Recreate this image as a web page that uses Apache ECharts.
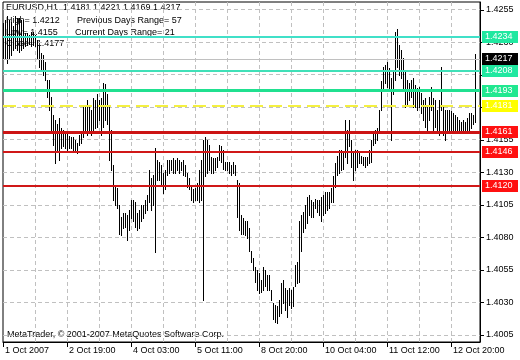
<!DOCTYPE html>
<html><head><meta charset="utf-8">
<script src="https://cdn.jsdelivr.net/npm/echarts@6/dist/echarts.min.js"></script>
<style>html,body{margin:0;padding:0;background:#fff}#c{width:520px;height:360px}</style>
</head><body><div id="c"></div>
<script>
// ---- data ----
const symbolName = 'EURUSD,H1';
const lastBarOHLC = [1.4181, 1.4221, 1.4169, 1.4217];
const dayHigh = 1.4212, dayLow = 1.4155, dayClose = 1.4177;
const prevDaysRange = 57, curDaysRange = 21;
const copyright = 'MetaTrader, \u00a9 2001-2007 MetaQuotes Software Corp.';

const timeLabels = ['1 Oct 2007', '2 Oct 19:00', '4 Oct 03:00', '5 Oct 11:00', '8 Oct 20:00', '10 Oct 04:00', '11 Oct 12:00', '12 Oct 20:00'];
const barsPerLabel = 32;
const priceTicks = [1.4005, 1.4030, 1.4055, 1.4080, 1.4105, 1.4130, 1.4155, 1.4180, 1.4205, 1.4230, 1.4255];

const highs = [
1.4245,1.4247,1.4250,1.4247,1.4246,1.4243,1.4250,1.4249,1.4249,1.4247,1.4247,1.4237,1.4237,1.4236,1.4238,1.4238,1.4236,1.4232,1.4227,1.4222,1.4220,1.4215,
1.4201,1.4201,1.4188,1.4174,1.4170,1.4167,1.4172,1.4164,1.4163,1.4161,1.4160,1.4158,1.4157,1.4157,1.4155,1.4153,1.4159,1.4160,1.4180,1.4180,1.4186,1.4182,
1.4178,1.4187,1.4186,1.4190,1.4186,1.4187,1.4199,1.4198,1.4190,1.4182,1.4163,1.4136,1.4120,1.4118,1.4105,1.4096,1.4099,1.4099,1.4097,1.4101,1.4109,1.4109,
1.4107,1.4099,1.4101,1.4105,1.4105,1.4109,1.4113,1.4132,1.4126,1.4128,1.4149,1.4140,1.4138,1.4136,1.4130,1.4132,1.4140,1.4140,1.4140,1.4141,1.4140,1.4141,
1.4140,1.4138,1.4140,1.4136,1.4130,1.4126,1.4119,1.4117,1.4118,1.4122,1.4132,1.4140,1.4155,1.4157,1.4155,1.4151,1.4142,1.4141,1.4141,1.4142,1.4151,1.4150,
1.4147,1.4138,1.4138,1.4138,1.4136,1.4138,1.4136,1.4124,1.4122,1.4097,1.4095,1.4093,1.4093,1.4087,1.4070,1.4064,1.4057,1.4055,1.4053,1.4047,1.4057,1.4055,
1.4051,1.4051,1.4040,1.4030,1.4028,1.4027,1.4032,1.4045,1.4047,1.4041,1.4040,1.4041,1.4040,1.4042,1.4059,1.4061,1.4093,1.4097,1.4100,1.4105,1.4111,1.4113,
1.4109,1.4107,1.4110,1.4109,1.4109,1.4111,1.4113,1.4115,1.4115,1.4115,1.4118,1.4127,1.4137,1.4143,1.4147,1.4147,1.4146,1.4170,1.4163,1.4170,1.4155,1.4145,
1.4147,1.4147,1.4145,1.4143,1.4142,1.4142,1.4142,1.4147,1.4155,1.4160,1.4163,1.4164,1.4178,1.4200,1.4211,1.4213,1.4215,1.4210,1.4203,1.4209,1.4238,1.4240,
1.4228,1.4224,1.4218,1.4207,1.4201,1.4199,1.4201,1.4203,1.4197,1.4195,1.4196,1.4191,1.4186,1.4187,1.4182,1.4188,1.4196,1.4187,1.4186,1.4178,1.4186,1.4211,
1.4180,1.4178,1.4178,1.4178,1.4177,1.4176,1.4174,1.4173,1.4170,1.4169,1.4170,1.4169,1.4172,1.4176,1.4176,1.4174,1.4221
];
const lows = [
1.4218,1.4217,1.4214,1.4218,1.4220,1.4224,1.4226,1.4224,1.4223,1.4224,1.4226,1.4227,1.4228,1.4229,1.4227,1.4228,1.4227,1.4217,1.4211,1.4209,1.4205,1.4201,
1.4188,1.4178,1.4163,1.4151,1.4137,1.4147,1.4140,1.4149,1.4150,1.4149,1.4147,1.4149,1.4149,1.4147,1.4146,1.4145,1.4151,1.4153,1.4157,1.4163,1.4159,1.4163,
1.4159,1.4163,1.4164,1.4165,1.4170,1.4159,1.4165,1.4170,1.4167,1.4140,1.4132,1.4109,1.4105,1.4103,1.4083,1.4082,1.4087,1.4088,1.4078,1.4086,1.4095,1.4093,
1.4088,1.4086,1.4087,1.4093,1.4095,1.4099,1.4101,1.4107,1.4101,1.4105,1.4069,1.4124,1.4124,1.4120,1.4114,1.4117,1.4128,1.4130,1.4132,1.4130,1.4130,1.4132,
1.4130,1.4132,1.4128,1.4127,1.4119,1.4117,1.4109,1.4107,1.4109,1.4109,1.4107,1.4109,1.4032,1.4127,1.4130,1.4132,1.4130,1.4130,1.4132,1.4134,1.4140,1.4138,
1.4133,1.4132,1.4132,1.4130,1.4128,1.4130,1.4128,1.4096,1.4086,1.4083,1.4083,1.4082,1.4080,1.4070,1.4061,1.4055,1.4046,1.4040,1.4037,1.4038,1.4040,1.4043,
1.4040,1.4040,1.4032,1.4017,1.4015,1.4014,1.4020,1.4022,1.4030,1.4024,1.4019,1.4028,1.4026,1.4027,1.4043,1.4045,1.4046,1.4070,1.4084,1.4087,1.4091,1.4097,
1.4096,1.4096,1.4103,1.4100,1.4097,1.4093,1.4097,1.4099,1.4101,1.4103,1.4107,1.4107,1.4119,1.4128,1.4130,1.4132,1.4133,1.4142,1.4137,1.4150,1.4134,1.4124,
1.4132,1.4134,1.4137,1.4137,1.4136,1.4134,1.4136,1.4137,1.4138,1.4151,1.4153,1.4155,1.4160,1.4178,1.4193,1.4199,1.4196,1.4193,1.4155,1.4190,1.4201,1.4211,
1.4205,1.4203,1.4193,1.4180,1.4183,1.4186,1.4188,1.4180,1.4180,1.4178,1.4180,1.4176,1.4170,1.4165,1.4163,1.4170,1.4178,1.4163,1.4165,1.4163,1.4159,1.4178,
1.4159,1.4155,1.4163,1.4163,1.4163,1.4163,1.4163,1.4161,1.4163,1.4161,1.4163,1.4163,1.4163,1.4163,1.4164,1.4167,1.4169
];

// horizontal level lines (values) and their look (kept separately)
const levelValues = [1.4234, 1.4217, 1.4208, 1.4193, 1.4181, 1.4161, 1.4146, 1.4120];
const levelLook = [
  {line: '#40e0c8', width: 2, dash: null, box: '#20e8a0'},
  {line: '#c0c0c0', width: 1, dash: null, box: '#000000'},
  {line: '#40e0b8', width: 2, dash: null, box: '#20e8a0'},
  {line: '#20e090', width: 3, dash: null, box: '#20e890'},
  {line: '#f4f040', width: 2, dash: [13, 6], box: '#ffff00'},
  {line: '#cc1414', width: 3, dash: null, box: '#ff1010'},
  {line: '#d01818', width: 2, dash: null, box: '#ff1010'},
  {line: '#d01818', width: 2, dash: null, box: '#ff1010'}
];

// ---- chart ----
const FONT = '"Liberation Sans", Arial, sans-serif';
const chart = echarts.init(document.getElementById('c'), null, {renderer: 'canvas', width: 520, height: 360});
const labelIdx = timeLabels.map((_, k) => k * barsPerLabel);
const vGrid = [];
for (let v = barsPerLabel / 2; v < highs.length; v += barsPerLabel / 2) vGrid.push(v);

const barData = highs.map((h, i) => [i, h, lows[i]]);
const snap = (c, w) => (w % 2 === 1 ? Math.round(c - 0.5) + 0.5 : Math.round(c));

const txt = (text, x, y) => ({
  type: 'text', x: x, y: y, z: -1,
  style: {text: text, fill: '#000', font: '9px ' + FONT, textVerticalAlign: 'middle', verticalAlign: 'middle'}
});

chart.setOption({
  animation: false,
  backgroundColor: '#ffffff',
  grid: {left: 3, right: 40, top: 2, bottom: 18, show: true, borderColor: '#000', borderWidth: 1, containLabel: false},
  xAxis: {
    type: 'value', min: 0, max: 238.5, interval: barsPerLabel,
    splitLine: {show: false},
    axisLine: {show: true, onZero: false, lineStyle: {color: '#000', width: 1}},
    axisTick: {show: true, customValues: labelIdx, length: 5, lineStyle: {color: '#000'}},
    axisLabel: {customValues: labelIdx, formatter: v => timeLabels[Math.round(v / barsPerLabel)] || '',
      align: 'left', margin: 4, padding: [0, 0, 0, 2], color: '#000', fontSize: 9, fontFamily: FONT}
  },
  yAxis: {
    type: 'value', position: 'right', min: 1.399962, max: 1.426115, scale: true,
    splitLine: {show: false},
    axisLine: {show: true, onZero: false, lineStyle: {color: '#000', width: 1}},
    axisTick: {show: true, customValues: priceTicks, length: 4, lineStyle: {color: '#000'}},
    axisLabel: {customValues: priceTicks, formatter: v => v.toFixed(4), margin: 6, color: '#000', fontSize: 9, fontFamily: FONT}
  },
  graphic: [
    txt(symbolName + '  ' + lastBarOHLC.map(v => v.toFixed(4)).join(' '), 6, 8),
    txt('High= ' + dayHigh.toFixed(4), 6, 21),
    txt('Previous Days Range= ' + prevDaysRange, 77, 21),
    txt('Low= ' + dayLow.toFixed(4), 6, 33),
    txt('Current Days Range= ' + curDaysRange, 75, 33),
    txt('Close= ' + dayClose.toFixed(4), 6, 44),
    txt(copyright, 7, 335)
  ],
  series: [
    { // horizontal dashed grid lines at the price ticks
      type: 'custom', z: 1, silent: true, clip: true,
      data: priceTicks.map(v => [0, v]),
      encode: {x: 0, y: 1},
      renderItem: function (params, api) {
        const cs = params.coordSys;
        const y = snap(api.coord([0, api.value(1)])[1], 1);
        return {type: 'line', shape: {x1: cs.x, y1: y, x2: cs.x + cs.width, y2: y},
          style: {stroke: '#c0c0c0', lineWidth: 1, lineDash: [4, 3]}};
      }
    },
    { // vertical dashed grid lines
      type: 'custom', z: 1, silent: true, clip: true,
      data: vGrid.map(v => [v, 1.41]),
      encode: {x: 0, y: 1},
      renderItem: function (params, api) {
        const cs = params.coordSys;
        const x = snap(api.coord([api.value(0), 1.41])[0], 1);
        return {type: 'line', shape: {x1: x, y1: cs.y, x2: x, y2: cs.y + cs.height},
          style: {stroke: '#c0c0c0', lineWidth: 1, lineDash: [4, 3]}};
      }
    },
    { // price bars (high-low)
      type: 'custom', z: 3, silent: true, clip: true,
      data: barData,
      encode: {x: 0, y: [1, 2]},
      renderItem: function (params, api) {
        const top = api.coord([api.value(0), api.value(1)]);
        const bot = api.coord([api.value(0), api.value(2)]);
        const x = snap(top[0], 1);
        return {type: 'line', shape: {x1: x, y1: Math.round(top[1]), x2: x, y2: Math.round(bot[1]) + 1},
          style: {stroke: '#000', lineWidth: 1}};
      }
    },
    { // horizontal level lines with price boxes
      type: 'custom', z: 5, silent: true, clip: false,
      data: levelValues.map((v, k) => [k, v]),
      encode: {y: 1},
      renderItem: function (params, api) {
        const k = params.dataIndex;
        const v = api.value(1);
        const look = levelLook[k];
        const cs = params.coordSys;
        const yc = api.coord([0, v])[1];
        const y = snap(yc, look.width);
        const right = cs.x + cs.width;
        return {type: 'group', children: [
          {type: 'line', shape: {x1: cs.x, y1: y, x2: right, y2: y},
            style: {stroke: look.line, lineWidth: look.width, lineDash: look.dash}},
          {type: 'rect', shape: {x: right + 2, y: Math.round(yc) - 6, width: 36, height: 12},
            style: {fill: look.box}},
          {type: 'text', x: right + 5, y: Math.round(yc),
            style: {text: v.toFixed(4), fill: '#fff', font: '9px ' + FONT, textVerticalAlign: 'middle', verticalAlign: 'middle'}}
        ]};
      }
    }
  ]
});
</script>
</body></html>
